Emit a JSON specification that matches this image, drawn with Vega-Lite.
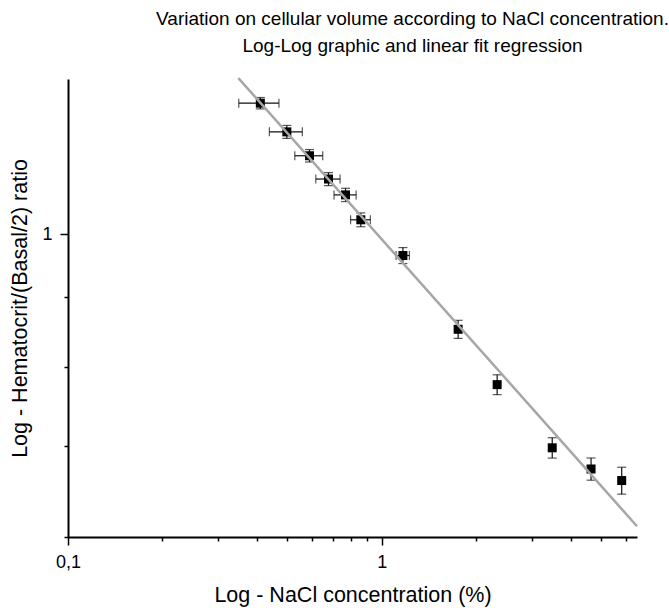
{
  "$schema": "https://vega.github.io/schema/vega-lite/v6.json",
  "width": 569,
  "height": 458,
  "autosize": "none",
  "padding": {"left": 68, "top": 79, "right": 32, "bottom": 71},
  "background": "white",
  "title": {
    "text": ["Variation on cellular volume according to NaCl concentration.", "Log-Log graphic and linear fit regression"],
    "font": "Liberation Sans",
    "fontSize": 19,
    "fontWeight": "normal",
    "color": "black",
    "anchor": "middle",
    "frame": "group",
    "dx": 60,
    "offset": 17,
    "lineHeight": 27
  },
  "config": {
    "view": {"stroke": null},
    "axis": {
      "grid": false,
      "domainColor": "black",
      "domainWidth": 2,
      "tickColor": "black",
      "tickWidth": 1.5,
      "labelFont": "Liberation Sans",
      "labelFontSize": 18,
      "labelColor": "black",
      "titleFont": "Liberation Sans",
      "titleFontSize": 21.5,
      "titleFontWeight": "normal",
      "titleColor": "black"
    }
  },
  "datasets": {
    "pts": [
      {"x": 0.41, "y": 1.248, "xerr": 0.06, "yerr": 0.012},
      {"x": 0.498, "y": 1.189, "xerr": 0.06, "yerr": 0.013},
      {"x": 0.588, "y": 1.142, "xerr": 0.06, "yerr": 0.012},
      {"x": 0.676, "y": 1.098, "xerr": 0.06, "yerr": 0.012},
      {"x": 0.766, "y": 1.069, "xerr": 0.062, "yerr": 0.012},
      {"x": 0.857, "y": 1.025, "xerr": 0.062, "yerr": 0.012},
      {"x": 1.167, "y": 0.965, "xerr": 0.057, "yerr": 0.013},
      {"x": 1.75, "y": 0.852, "xerr": 0, "yerr": 0.013},
      {"x": 2.33, "y": 0.776, "xerr": 0, "yerr": 0.013},
      {"x": 3.49, "y": 0.6975, "xerr": 0, "yerr": 0.012},
      {"x": 4.64, "y": 0.673, "xerr": 0, "yerr": 0.0126},
      {"x": 5.81, "y": 0.66, "xerr": 0, "yerr": 0.015}
    ],
    "fit": [
      {"x": 0.349, "y": 1.302},
      {"x": 6.5, "y": 0.611}
    ]
  },
  "layer": [
    {
      "data": {"name": "pts"},
      "mark": {"type": "errorbar", "ticks": {"size": 9, "color": "#111"}, "thickness": 1.2, "color": "#111"},
      "encoding": {
        "x": {
          "field": "x", "type": "quantitative",
          "title": "Log - NaCl concentration (%)",
          "scale": {"type": "log", "domain": [0.1, 6.5], "nice": false},
          "axis": {
            "title": "Log - NaCl concentration (%)",
            "values": [0.1, 0.2, 0.3, 0.4, 0.5, 0.6, 0.7, 0.8, 0.9, 1, 2, 3, 4, 5, 6],
            "labelExpr": "datum.value == 0.1 ? '0,1' : (datum.value == 1 ? '1' : '')",
            "tickSize": {"condition": {"test": "datum.value == 0.1 || datum.value == 1", "value": 8}, "value": 4},
            "labelPadding": 8,
            "titlePadding": 13,
            "labelFlush": false,
            "labelOverlap": false
          }
        },
        "y": {
          "field": "y", "type": "quantitative",
          "title": "Log - Hematocrit/(Basal/2) ratio",
          "scale": {"type": "log", "domain": [0.6, 1.3], "nice": false},
          "axis": {
            "title": "Log - Hematocrit/(Basal/2) ratio",
            "values": [0.6, 0.7, 0.8, 0.9, 1],
            "labelExpr": "datum.value == 1 ? '1' : ''",
            "tickSize": {"condition": {"test": "datum.value == 1", "value": 8}, "value": 4},
            "labelPadding": 8,
            "titlePadding": 10,
            "labelFlush": false,
            "labelOverlap": false
          }
        },
        "yError": {"field": "yerr"}
      }
    },
    {
      "data": {"name": "pts"},
      "transform": [{"filter": "datum.xerr > 0"}],
      "mark": {"type": "errorbar", "orient": "horizontal", "ticks": {"size": 9, "color": "#111"}, "thickness": 1.2, "color": "#111"},
      "encoding": {
        "x": {"field": "x", "type": "quantitative", "title": "Log - NaCl concentration (%)"},
        "y": {"field": "y", "type": "quantitative", "title": "Log - Hematocrit/(Basal/2) ratio"},
        "xError": {"field": "xerr"}
      }
    },
    {
      "data": {"name": "pts"},
      "mark": {"type": "point", "shape": "square", "filled": true, "size": 81, "color": "black", "opacity": 1},
      "encoding": {
        "x": {"field": "x", "type": "quantitative", "title": "Log - NaCl concentration (%)"},
        "y": {"field": "y", "type": "quantitative", "title": "Log - Hematocrit/(Basal/2) ratio"}
      }
    },
    {
      "data": {"name": "fit"},
      "mark": {"type": "line", "color": "#a6a6a6", "strokeWidth": 2.5, "clip": false},
      "encoding": {
        "x": {"field": "x", "type": "quantitative", "title": "Log - NaCl concentration (%)"},
        "y": {"field": "y", "type": "quantitative", "title": "Log - Hematocrit/(Basal/2) ratio"}
      }
    }
  ]
}
